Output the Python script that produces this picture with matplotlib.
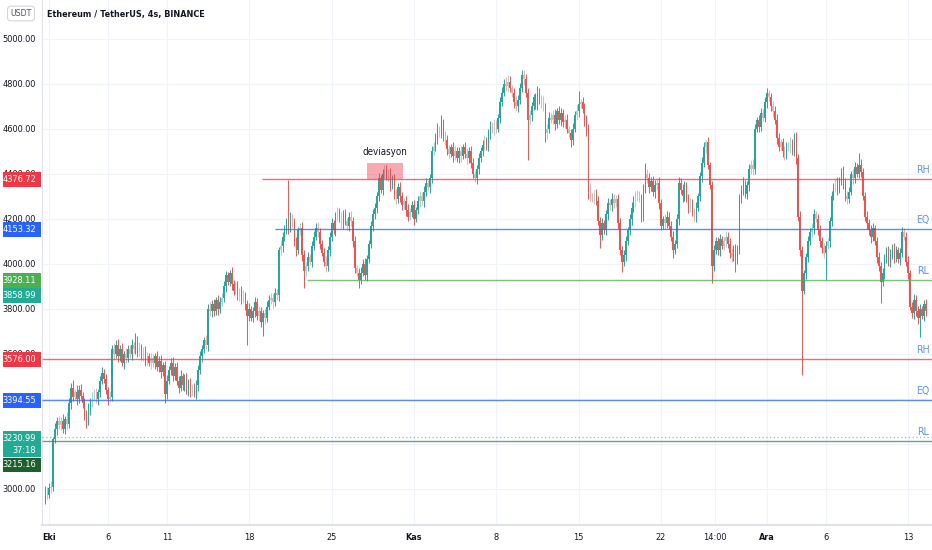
import os
import matplotlib
matplotlib.use("Agg")
import matplotlib.pyplot as plt
from matplotlib import font_manager
from matplotlib.font_manager import FontProperties
from matplotlib.patches import Rectangle
import numpy as np

# ---- data: ETH/USDT 4h candles (Sep 30 16:00 .. Dec 14) ----
first_open = 2960
closes = [
    2995,
    2975, 3005, 3010, 3220, 3265, 3300,
    3285, 3300, 3265, 3310, 3290, 3380,
    3450, 3410, 3430, 3400, 3440, 3415,
    3380, 3330, 3300, 3350, 3390, 3410,
    3420, 3400, 3430, 3480, 3515, 3490,
    3440, 3400, 3410, 3620, 3600, 3640,
    3590, 3620, 3560, 3600, 3580, 3620,
    3600, 3640, 3620, 3660, 3610, 3630,
    3590, 3610, 3570, 3590, 3560, 3580,
    3560, 3590, 3540, 3570, 3520, 3550,
    3420, 3480, 3530, 3560, 3500, 3540,
    3480, 3450, 3500, 3460, 3490, 3440,
    3470, 3430, 3450, 3420, 3460, 3530,
    3590, 3620, 3660, 3640, 3800, 3790,
    3820, 3790, 3840, 3800, 3830, 3850,
    3900, 3950, 3920, 3960, 3910, 3880,
    3900, 3860, 3880, 3840, 3860, 3820,
    3770, 3800, 3760, 3790, 3830, 3770,
    3790, 3740, 3780, 3760, 3810, 3840,
    3850, 3830, 3870, 3860, 4060, 4080,
    4120, 4150, 4190, 4160, 4200, 4180,
    4100, 4060, 4150, 4160, 4040, 3970,
    3990, 4030, 4010, 4080, 4120, 4160,
    4140, 4090, 4050, 4010, 3990, 4060,
    4120, 4180, 4150, 4210, 4230, 4200,
    4180, 4220, 4190, 4170, 4210, 4190,
    4100, 3980, 3960, 3930, 3960, 4000,
    3950, 4020, 4090, 4170, 4220, 4250,
    4300, 4380, 4330, 4400, 4420, 4390,
    4400, 4350, 4380, 4310, 4290, 4340,
    4300, 4260, 4280, 4240, 4210, 4230,
    4260, 4200, 4240, 4280, 4300, 4280,
    4320, 4360, 4340, 4380, 4500, 4520,
    4560, 4600, 4580, 4620, 4570, 4550,
    4510, 4490, 4520, 4480, 4500, 4470,
    4500, 4480, 4520, 4490, 4470, 4500,
    4450, 4400, 4380, 4420, 4470, 4500,
    4530, 4550, 4520, 4580, 4610, 4600,
    4620, 4600, 4650, 4720, 4760, 4800,
    4790, 4810, 4780, 4760, 4720, 4700,
    4730, 4780, 4840, 4820, 4760, 4640,
    4660, 4700, 4740, 4710, 4760, 4730,
    4720, 4700, 4580, 4600, 4650, 4640,
    4660, 4620, 4680, 4640, 4670, 4630,
    4640, 4600, 4580, 4550, 4600, 4660,
    4680, 4710, 4720, 4690, 4640, 4590,
    4320, 4300, 4290, 4310, 4280, 4190,
    4130, 4180, 4150, 4220, 4270, 4260,
    4290, 4270, 4290, 4180, 4060, 4010,
    4040, 4100, 4150, 4200, 4250, 4280,
    4300, 4310, 4290, 4210, 4330, 4400,
    4380, 4340, 4370, 4320, 4350, 4360,
    4270, 4170, 4200, 4180, 4210, 4170,
    4120, 4060, 4090, 4200, 4360, 4330,
    4300, 4350, 4290, 4250, 4270, 4230,
    4210, 4250, 4300, 4390, 4450, 4520,
    4540, 4440, 4350, 3990, 4060, 4100,
    4060, 4110, 4080, 4100, 4120, 4090,
    4050, 4030, 4070, 4020, 4060, 4290,
    4330, 4360, 4310, 4350, 4420, 4440,
    4420, 4600, 4640, 4610, 4670, 4650,
    4720, 4760, 4740, 4700, 4680, 4640,
    4560, 4520, 4540, 4500, 4480, 4520,
    4520, 4540, 4500, 4560, 4470, 4210,
    4060, 3880, 3960, 4030, 4100, 4140,
    4160, 4220, 4200, 4150, 4100, 4070,
    4050, 4080, 4100, 4190, 4300, 4340,
    4360, 4330, 4370, 4410, 4360, 4300,
    4290, 4320, 4400, 4380, 4430, 4400,
    4440, 4410, 4300, 4210, 4180, 4150,
    4120, 4160, 4100, 4030, 3990, 3920,
    3960, 4020, 4060, 4010, 4040, 4070,
    4030, 4060, 4020, 4050, 4140, 4120,
    4010, 3960, 3810, 3780, 3840, 3790,
    3760, 3800, 3770, 3820, 3790,
]

# wick lengths above max(open, close) and below min(open, close)
up_wick = [
    20,
    15, 20, 25, 10, 30, 20,  25, 20, 35, 15, 30, 25,  20, 35, 15, 30, 20, 25,
    15, 25, 20, 30, 15, 20,  25, 30, 15, 20, 25, 20,  20, 15, 25, 20, 30, 20,
    25, 20, 30, 15, 25, 20,  20, 25, 15, 33, 20, 25,  15, 20, 25, 20, 15, 25,
    20, 15, 25, 20, 25, 15,  20, 25, 15, 20, 25, 20,  25, 20, 30, 15, 20, 25,
    20, 25, 15, 20, 25, 20,  25, 20, 15, 25, 20, 30,  20, 25, 15, 20, 25, 20,
    25, 20, 15, 12, 25, 20,  20, 25, 15, 20, 25, 15,  20, 25, 15, 20, 25, 20,
    25, 20, 15, 20, 25, 20,  20, 15, 25, 20, 15, 25,  20, 25, 15, 185, 30, 20,
    25, 20, 15, 20, 25, 20,  20, 25, 15, 20, 25, 20,  25, 20, 15, 20, 25, 20,
    20, 25, 15, 20, 25, 20,  30, 20, 25, 15, 20, 25,  20, 25, 15, 20, 25, 20,
    25, 20, 15, 20, 25, 20,  20, 25, 15, 20, 20, 20,  20, 25, 15, 20, 25, 20,
    25, 20, 15, 20, 25, 20,  20, 25, 15, 20, 25, 20,  25, 20, 15, 20, 25, 20,
    20, 25, 15, 42, 25, 20,  25, 20, 15, 20, 25, 20,  20, 25, 15, 20, 25, 20,
    25, 20, 15, 20, 25, 20,  20, 25, 15, 20, 25, 20,  25, 20, 15, 20, 25, 20,
    30, 30, 25, 15, 20, 25,  20, 25, 22, 20, 25, 20,  25, 20, 15, 20, 30, 20,
    20, 25, 15, 20, 25, 20,  25, 30, 15, 20, 25, 20,  20, 25, 15, 20, 25, 20,
    25, 60, 15, 20, 25, 20,  30, 40, 15, 20, 25, 20,  20, 25, 15, 20, 25, 20,
    25, 20, 15, 20, 25, 20,  20, 25, 15, 20, 25, 20,  25, 20, 15, 20, 25, 49,
    20, 25, 15, 20, 25, 20,  25, 20, 15, 20, 25, 20,  20, 25, 15, 20, 25, 20,
    25, 20, 15, 20, 25, 20,  20, 25, 15, 20, 25, 20,  11, 25, 15, 20, 25, 20,
    20, 25, 15, 20, 25, 20,  25, 20, 15, 20, 25, 20,  20, 25, 15, 20, 25, 20,
    25, 20, 15, 20, 25, 20,  20, 22, 15, 20, 25, 20,  25, 20, 15, 20, 25, 20,
    20, 25, 15, 20, 25, 20,  25, 20, 15, 20, 25, 20,  20, 25, 15, 20, 25, 20,
    25, 20, 15, 20, 25, 20,  20, 25, 15, 17, 25, 20,  25, 20, 15, 20, 25, 20,
    53, 25, 15, 20, 25, 20,  25, 20, 15, 20, 25, 20,  20, 25, 15, 20, 25, 20,
    25, 20, 15, 20, 25, 20,  20, 25, 15, 20, 25, 20,
    25, 20, 15, 20, 25,
]
dn_wick = [
    25,
    20, 15, 25, 20, 15, 25,  20, 25, 15, 20, 25, 20,  25, 20, 15, 25, 20, 15,
    20, 25, 30, 15, 20, 25,  15, 20, 25, 20, 15, 20,  20, 25, 15, 20, 25, 20,
    25, 20, 15, 25, 20, 15,  20, 25, 15, 20, 25, 20,  15, 20, 25, 20, 15, 25,
    20, 25, 15, 20, 25, 20,  40, 20, 15, 25, 20, 15,  20, 25, 15, 20, 25, 20,
    25, 20, 15, 10, 20, 25,  20, 25, 15, 20, 25, 20,  25, 20, 15, 25, 20, 15,
    20, 25, 15, 20, 25, 20,  15, 20, 25, 20, 15, 25,  130, 25, 15, 20, 25, 20,
    25, 20, 60, 25, 20, 15,  20, 25, 15, 20, 25, 20,  25, 20, 15, 25, 20, 15,
    20, 25, 15, 20, 25, 77,  25, 20, 15, 25, 20, 15,  20, 25, 15, 20, 25, 20,
    25, 20, 15, 25, 20, 15,  20, 25, 15, 20, 25, 20,  25, 20, 15, 37, 20, 15,
    20, 25, 15, 20, 25, 20,  25, 20, 15, 25, 20, 15,  20, 25, 15, 20, 25, 20,
    25, 20, 15, 25, 20, 15,  20, 25, 15, 20, 25, 20,  25, 20, 15, 25, 20, 15,
    20, 25, 15, 20, 25, 20,  25, 20, 15, 25, 20, 15,  20, 25, 15, 20, 25, 20,
    25, 20, 15, 25, 20, 15,  20, 25, 15, 20, 25, 20,  25, 20, 15, 25, 20, 15,
    20, 25, 15, 20, 25, 20,  25, 20, 15, 25, 20, 178,  20, 25, 15, 20, 25, 20,
    25, 20, 40, 25, 20, 15,  20, 25, 15, 20, 25, 20,  25, 20, 15, 30, 20, 15,
    20, 25, 15, 20, 25, 20,  30, 20, 15, 25, 20, 15,  59, 25, 15, 20, 25, 20,
    25, 20, 15, 25, 20, 46,  20, 25, 15, 20, 25, 20,  25, 20, 15, 25, 20, 15,
    20, 25, 15, 20, 25, 20,  25, 20, 15, 25, 20, 15,  20, 33, 15, 20, 25, 20,
    25, 20, 15, 25, 20, 15,  20, 25, 15, 20, 25, 20,  25, 20, 15, 75, 20, 15,
    20, 25, 15, 20, 25, 20,  25, 20, 15, 55, 20, 15,  20, 25, 15, 20, 25, 20,
    25, 20, 15, 25, 20, 15,  20, 25, 15, 20, 25, 20,  25, 20, 15, 25, 20, 15,
    20, 25, 15, 20, 25, 20,  25, 373, 15, 25, 20, 15,  20, 25, 15, 20, 25, 20,
    25, 120, 15, 25, 20, 15,  20, 25, 15, 20, 25, 20,  25, 20, 15, 25, 20, 15,
    20, 25, 15, 20, 25, 20,  25, 20, 15, 25, 20, 93,  20, 25, 15, 20, 25, 20,
    25, 20, 15, 25, 20, 15,  20, 25, 15, 20, 25, 20,
    25, 84, 15, 25, 20,
]

# levels drawn on the chart
level_prices = [4376.72, 4153.32, 3928.11, 3576.00, 3394.55, 3215.16]
level_start = [18.09, 19.19, 21.89, None, None, None]   # day the line starts, None = full width
level_tags = ["RH", "EQ", "RL", "RH", "EQ", "RL"]
level_colors = ["#f23645", "#2962ff", "#4caf50", "#f23645", "#2962ff", "#4a7c59"]
last_price = 3230.99
countdown = "37:18"
marker_price = 3858.99

ytick_vals = [3000, 3200, 3400, 3600, 3800, 4000, 4200, 4400, 4600, 4800, 5000]
xtick_days = [0, 5, 10, 17, 24, 31, 38, 45, 52, 56.58, 61, 66, 73]
xtick_labels = ["Eki", "6", "11", "18", "25", "Kas", "8", "15", "22", "14:00", "Ara", "6", "13"]
month_labels = {"Eki", "Kas", "Ara"}

dev_days = (27.01, 30.07)
dev_prices = (4378, 4449)

# ---- fonts: prefer a narrow face, the screenshot text is very condensed ----
all_files = {os.path.basename(p).lower(): p for p in font_manager.findSystemFonts()}
for f in font_manager.fontManager.ttflist:
    all_files.setdefault(os.path.basename(f.fname).lower(), f.fname)


def pick(cands):
    for name, scale in cands:
        if name in all_files:
            return all_files[name], scale
    return None, 1.0


reg_path, REG_S = pick([("liberationsansnarrow-regular.ttf", 1.0),
                        ("dejavusanscondensed.ttf", 0.88)])
bold_path, BOLD_S = pick([("liberationsansnarrow-bold.ttf", 1.0),
                          ("dejavusanscondensed-bold.ttf", 0.86)])


def fp(size, bold=False):
    path, s = (bold_path, BOLD_S) if bold else (reg_path, REG_S)
    if path:
        return FontProperties(fname=path, size=size * s)
    return FontProperties(family="Liberation Sans", size=size * 0.9,
                          weight="bold" if bold else "normal")


TXT = "#131722"

assert len(closes) == len(up_wick) == len(dn_wick), (len(closes), len(up_wick), len(dn_wick))

c = np.array(closes, dtype=float)
o = np.concatenate([[first_open], c[:-1]])
hi = np.maximum(o, c) + np.array(up_wick)
lo = np.minimum(o, c) - np.array(dn_wick)
t = -1 / 3 + np.arange(len(c)) / 6.0

up = c >= o
small = np.abs(c - o) < 25
cols = np.where(up, np.where(small, "#9dd6cf", "#26a69a"),
                np.where(small, "#f7aaa8", "#ef5350"))

W, H = 932, 550
fig = plt.figure(figsize=(W / 100, H / 100), dpi=100)
fig.patch.set_facecolor("white")
ax = fig.add_axes([42 / W, 25 / H, 890 / W, 525 / H])
ax.set_xlim(-0.612, 75.04)
ax.set_ylim(2840, 5173.3)
PPX = (5173.3 - 2840) / 525.0   # price units per pixel

# grid and scales
ax.set_yticks(ytick_vals)
ax.set_yticklabels([f"{v:.2f}" for v in ytick_vals])
ax.set_xticks(xtick_days)
ax.set_xticklabels(xtick_labels)
ax.grid(True, color="#f0f3fa", linewidth=0.8, zorder=0)
ax.set_axisbelow(True)
ax.tick_params(axis="both", length=0, colors=TXT)
ax.tick_params(axis="y", pad=4.5)
ax.tick_params(axis="x", pad=5.5)
for lab in ax.get_yticklabels():
    lab.set_fontproperties(fp(7.5))
    lab.set_color(TXT)
for lab in ax.get_xticklabels():
    lab.set_fontproperties(fp(7.5, bold=lab.get_text() in month_labels))
    lab.set_color(TXT)
for s in ["top", "right"]:
    ax.spines[s].set_visible(False)
ax.spines["left"].set_color("#e0e3eb")
ax.spines["bottom"].set_color("#e0e3eb")
ax.spines["bottom"].set_linewidth(1.6)

# candles
ax.vlines(t, lo, hi, colors=cols, linewidth=0.7, zorder=2)
body = np.where(np.abs(c - o) < 3, 3, c - o)
ax.bar(t, body, bottom=o, width=0.125, color=cols, linewidth=0, zorder=3)

# levels
x_left, x_right = ax.get_xlim()
for p, st, col, tag in zip(level_prices, level_start, level_colors, level_tags):
    xs = st if st is not None else x_left
    ax.hlines(p, xs, x_right, color=col, linewidth=1.0, alpha=0.75, zorder=4)
    ax.annotate(tag, xy=(0.997, p), xycoords=ax.get_yaxis_transform(),
                xytext=(0, 6.5), textcoords="offset points", ha="right", va="center",
                fontproperties=fp(8.6), color="#5d94e6")
ax.axhline(last_price, color="#22ab94", linewidth=0.9, linestyle=(0, (1, 2)),
           alpha=0.6, zorder=4)

# deviasyon box
ax.add_patch(Rectangle((dev_days[0], dev_prices[0]), dev_days[1] - dev_days[0],
                       dev_prices[1] - dev_prices[0], facecolor="#f23645",
                       alpha=0.42, linewidth=0, zorder=5))
ax.text(sum(dev_days) / 2, dev_prices[1] + 11 * PPX, "deviasyon", ha="center",
        va="center", fontproperties=fp(8.0), color=TXT, zorder=6)

# price labels on the left scale
ytr = ax.get_yaxis_transform()
bx0, bw = -39 / 890, 38 / 890
tx = -6 / 890


def price_box(center, h_px, color, lines):
    ax.add_patch(Rectangle((bx0, center - h_px / 2 * PPX), bw, h_px * PPX,
                           transform=ytr, facecolor=color, edgecolor="none",
                           clip_on=False, zorder=8))
    n = len(lines)
    for k, s in enumerate(lines):
        yy = center + ((n - 1) / 2 - k) * 12 * PPX
        ax.text(tx, yy, s, transform=ytr, ha="right", va="center", color="white",
                fontproperties=fp(7.5), clip_on=False, zorder=9)


for p, col in zip(level_prices[:5], level_colors[:5]):
    price_box(p, 15, col, [f"{p:.2f}"])
price_box(marker_price, 15, "#22ab94", [f"{marker_price:.2f}"])
price_box(last_price - 7 * PPX, 26, "#22ab94", [f"{last_price:.2f}", countdown])
price_box(level_prices[5] - 24.4 * PPX, 14, "#1e5f2c", [f"{level_prices[5]:.2f}"])

# header
fig.text(47 / W, 1 - 14 / H, "Ethereum / TetherUS, 4s, BINANCE", ha="left", va="center",
         fontproperties=fp(7.5, bold=True), color=TXT)
fig.text(21 / W, 1 - 13.5 / H, "USDT", ha="center", va="center",
         fontproperties=fp(7.2), color="#50535e",
         bbox=dict(boxstyle="round,pad=0.32,rounding_size=0.4", fc="white",
                   ec="#d1d4dc", lw=0.8))

fig.savefig("out.png", dpi=100)
